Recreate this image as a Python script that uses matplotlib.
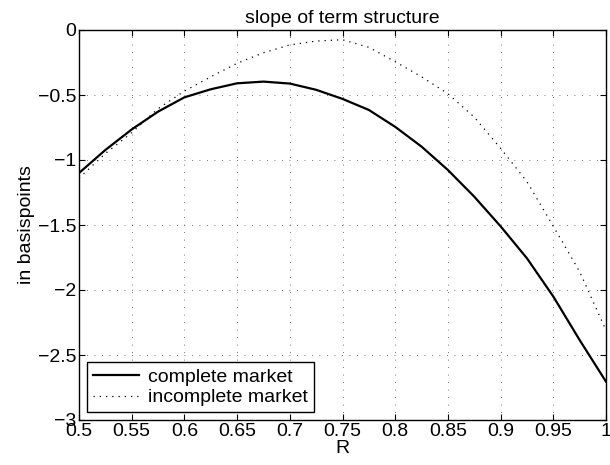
import matplotlib
matplotlib.use("Agg")
import matplotlib.pyplot as plt

plt.rcParams['font.family'] = ['Liberation Sans', 'DejaVu Sans']

R = [0.5, 0.525, 0.55, 0.575, 0.6, 0.625, 0.65, 0.675, 0.7, 0.725, 0.75,
     0.775, 0.8, 0.825, 0.85, 0.875, 0.9, 0.925, 0.95, 0.975, 1.0]
complete = [-1.10, -0.923, -0.765, -0.628, -0.518, -0.456, -0.41, -0.397, -0.412, -0.46, -0.53,
            -0.615, -0.745, -0.897, -1.077, -1.282, -1.51, -1.756, -2.05, -2.385, -2.705]
incomplete = [-1.14, -0.95, -0.79, -0.605, -0.47, -0.36, -0.256, -0.175, -0.115, -0.085, -0.075,
              -0.133, -0.244, -0.36, -0.49, -0.67, -0.91, -1.167, -1.51, -1.859, -2.31]

xticks = [0.5, 0.55, 0.6, 0.65, 0.7, 0.75, 0.8, 0.85, 0.9, 0.95, 1.0]
xticklabels = ['0.5', '0.55', '0.6', '0.65', '0.7', '0.75', '0.8', '0.85', '0.9', '0.95', '1']
yticks = [-3, -2.5, -2, -1.5, -1, -0.5, 0]
yticklabels = ['\u22123', '\u22122.5', '\u22122', '\u22121.5', '\u22121', '\u22120.5', '0']

FS = 14

fig = plt.figure(figsize=(6.1, 4.65), dpi=100)
ax = fig.add_axes([79/610, 45/465, 527/610, 390/465])

ax.plot(R, complete, color='black', lw=1.6, label='complete market')
ax.plot(R, incomplete, color='black', lw=0.9, linestyle=(0, (1, 4)), label='incomplete market')

ax.set_xlim(0.5, 1.0)
ax.set_ylim(-3, 0)
ax.set_xticks(xticks)
ax.set_xticklabels(xticklabels)
ax.set_yticks(yticks)
ax.set_yticklabels(yticklabels)
ax.tick_params(direction='in', top=True, right=True, length=4, width=0.8, labelsize=FS, pad=2)
ax.grid(True, color='black', linestyle=(0, (1, 8)), linewidth=0.6, alpha=0.7)
for s in ax.spines.values():
    s.set_linewidth(1.0)

ax.set_title('slope of term structure', fontsize=FS, pad=5)
ax.set_xlabel('R', fontsize=FS, labelpad=0)
ax.set_ylabel('in basispoints', fontsize=FS, labelpad=2)

leg = ax.legend(loc='lower left', fontsize=FS, fancybox=False, edgecolor='black',
                framealpha=1, handlelength=2.4, handletextpad=0.45, borderpad=0.3,
                borderaxespad=0.4, labelspacing=0.15)
leg.get_frame().set_linewidth(1.0)

fig.savefig('out.png', dpi=100)
